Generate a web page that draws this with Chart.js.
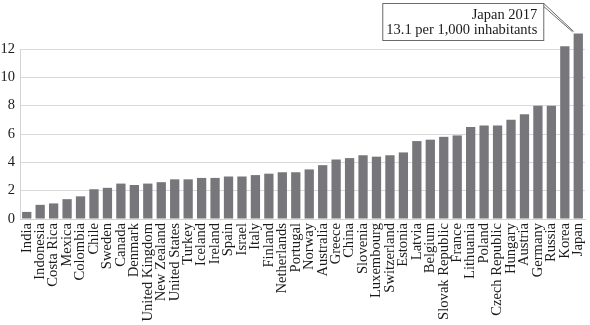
<!DOCTYPE html>
<html>
<head>
<meta charset="utf-8">
<script src="https://cdn.jsdelivr.net/npm/chart.js@4.4.1/dist/chart.umd.min.js"></script>
<style>
  html, body { margin: 0; padding: 0; background: #fff; }
  #caixa { width: 590px; height: 325px; }
</style>
</head>
<body>
<div id="caixa"><canvas id="grafico"></canvas></div>
<script>
// países em ordem crescente de leitos por 1.000 habitantes
const paises = [
  'India', 'Indonesia', 'Costa Rica', 'Mexica', 'Colombia', 'Chile', 'Sweden',
  'Canada', 'Denmark', 'United Kingdom', 'New Zealand', 'United States', 'Turkey',
  'Iceland', 'Ireland', 'Spain', 'Israel', 'Italy', 'Finland', 'Netherlands',
  'Portugal', 'Norway', 'Australia', 'Greece', 'China', 'Slovenia', 'Luxembourg',
  'Switzerland', 'Estonia', 'Latvia', 'Belgium', 'Slovak Republic', 'France',
  'Lithuania', 'Poland', 'Czech Republic', 'Hungary', 'Austria', 'Germany',
  'Russia', 'Korea', 'Japan'
];

const leitos = [
  0.5, 1.0, 1.1, 1.4, 1.6, 2.1, 2.2,
  2.5, 2.4, 2.5, 2.6, 2.8, 2.8,
  2.9, 2.9, 3.0, 3.0, 3.1, 3.2, 3.3,
  3.3, 3.5, 3.8, 4.2, 4.3, 4.5, 4.4,
  4.5, 4.7, 5.5, 5.6, 5.8, 5.9,
  6.5, 6.6, 6.6, 7.0, 7.4, 8.0,
  8.0, 12.2, 13.1
];

const marcasY = [0, 2, 4, 6, 8, 10, 12];
const textoNota = ['Japan 2017', '13.1 per 1,000 inhabitants'];

const fonte = 'Liberation Serif, Times New Roman, serif';

// caixa de chamada ligada à última barra
const notaJapao = {
  id: 'notaJapao',
  afterDraw(chart) {
    const ctx = chart.ctx;
    const meta = chart.getDatasetMeta(0);
    const barra = meta.data[meta.data.length - 1];
    const p = barra.getProps(['x', 'y', 'width'], true);

    const dir = p.x - 35;
    const esq = dir - 161;
    const topo = 3;
    const base = 40;

    ctx.save();
    ctx.fillStyle = '#fff';
    ctx.fillRect(esq, topo, dir - esq, base - topo);
    ctx.strokeStyle = '#6a6a6a';
    ctx.lineWidth = 1;
    ctx.strokeRect(esq + 0.5, topo + 0.5, dir - esq, base - topo);

    // linha dupla até o topo da barra
    const alvoX = p.x - p.width / 2;
    const alvoY = p.y - 2;
    ctx.beginPath();
    ctx.moveTo(dir + 0.5, topo + 0.5);
    ctx.lineTo(alvoX, alvoY);
    ctx.moveTo(dir + 0.5, topo + 3.5);
    ctx.lineTo(alvoX - 1, alvoY + 0.5);
    ctx.stroke();

    ctx.fillStyle = '#1a1a1a';
    ctx.font = '14.5px ' + fonte;
    ctx.textAlign = 'right';
    ctx.textBaseline = 'alphabetic';
    ctx.fillText(textoNota[0], dir - 6, 18.5);
    ctx.fillText(textoNota[1], dir - 6, 33.5);
    ctx.restore();
  }
};

const ctx = document.getElementById('grafico').getContext('2d');
new Chart(ctx, {
  type: 'bar',
  data: {
    labels: paises,
    datasets: [{
      data: leitos,
      backgroundColor: '#77777b',
      categoryPercentage: 1,
      barPercentage: 0.69,
      clip: false
    }]
  },
  options: {
    responsive: true,
    maintainAspectRatio: false,
    animation: false,
    layout: { padding: { top: 49, right: 5, left: 0, bottom: 0 } },
    plugins: {
      legend: { display: false },
      tooltip: { enabled: false }
    },
    scales: {
      x: {
        grid: { display: false, drawTicks: false },
        border: { color: '#d4d4d4' },
        ticks: {
          autoSkip: false,
          minRotation: 90,
          maxRotation: 90,
          padding: 4,
          color: '#1a1a1a',
          font: { family: fonte, size: 14.6 }
        },
        afterFit: s => {
          s.height = 106;
          s.paddingLeft = 0;
          s.paddingRight = 0;
        }
      },
      y: {
        min: 0,
        max: 12,
        afterBuildTicks: s => { s.ticks = marcasY.map(v => ({ value: v })); },
        grid: { color: '#d9d9d9', drawTicks: false },
        border: { color: '#d4d4d4' },
        ticks: {
          padding: 5,
          color: '#1a1a1a',
          font: { family: fonte, size: 14.5 }
        },
        afterFit: s => { s.width = 20; }
      }
    }
  },
  plugins: [notaJapao]
});
</script>
</body>
</html>
